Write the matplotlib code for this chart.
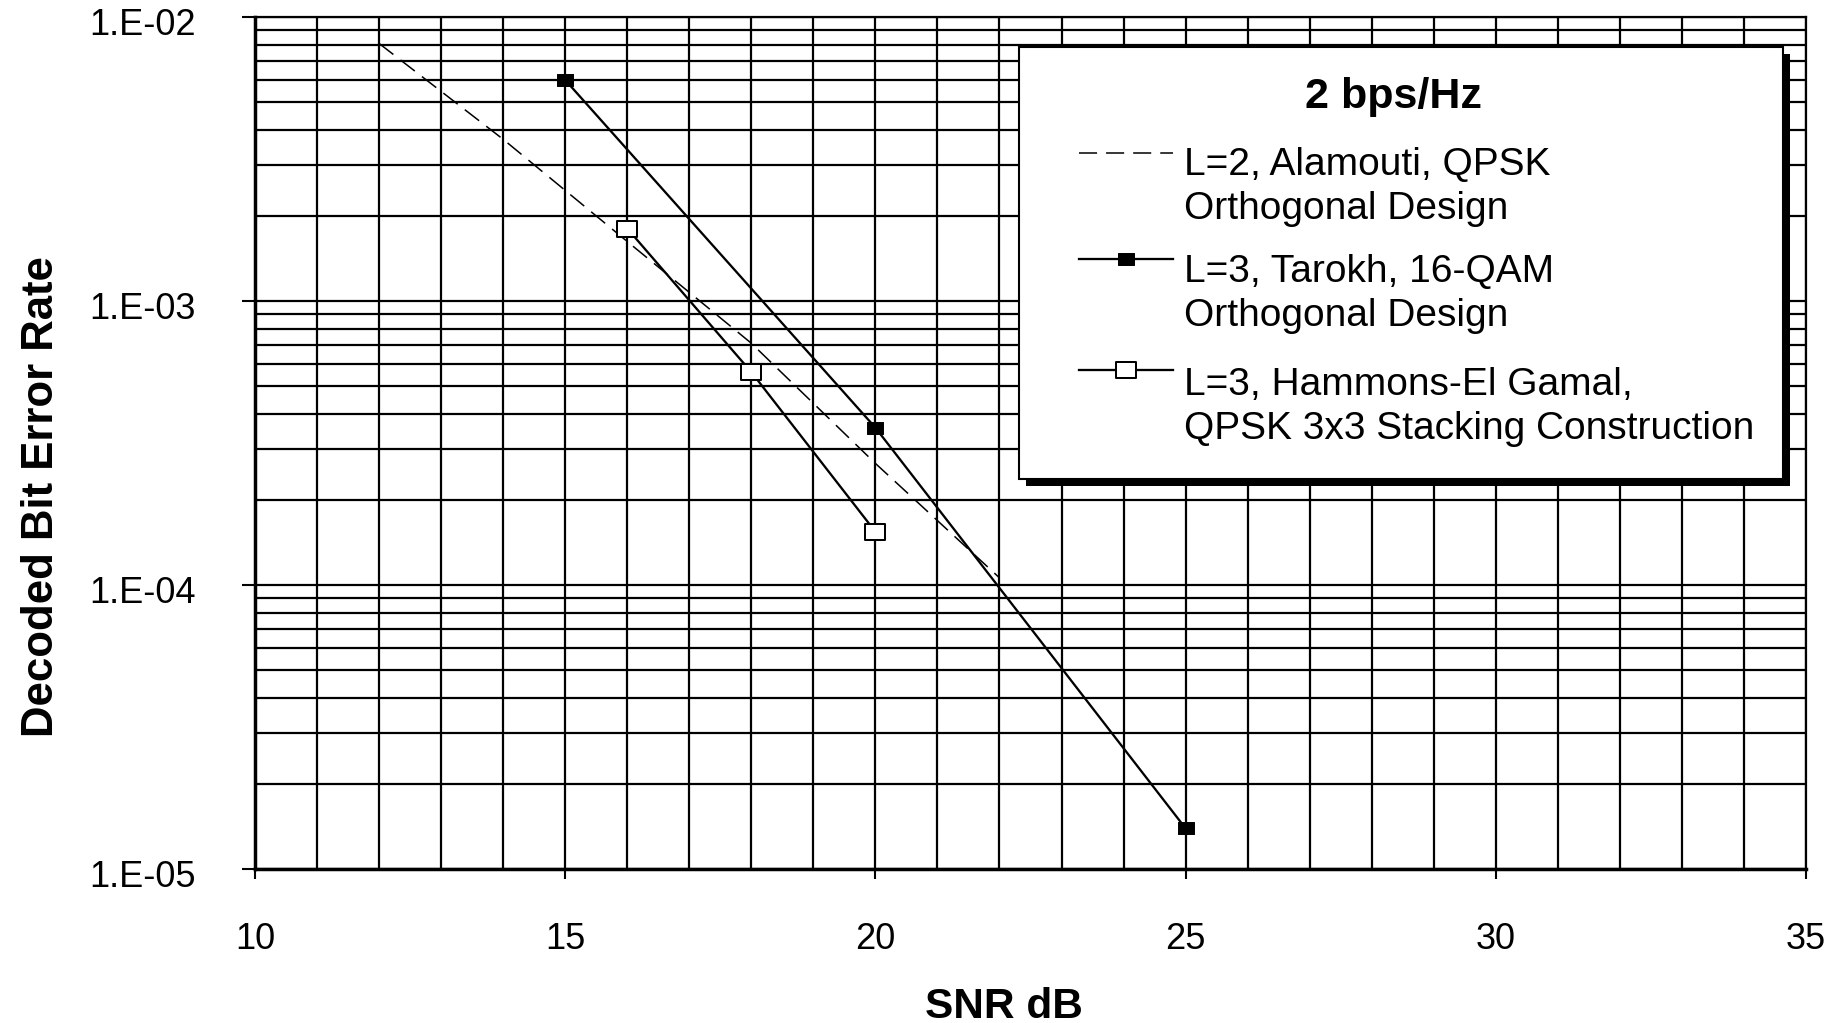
import numpy as np
import matplotlib
matplotlib.use("Agg")
import matplotlib.pyplot as plt
from matplotlib.path import Path
from matplotlib.lines import Line2D
from matplotlib.patches import Rectangle
from matplotlib.ticker import FixedLocator, FixedFormatter, NullFormatter
from matplotlib.transforms import ScaledTranslation

plt.rcParams['font.family'] = ['Liberation Sans', 'DejaVu Sans']
plt.rcParams['lines.scale_dashes'] = False

# ---------------- data ----------------
snr_alamouti = [12, 14, 16, 18, 20, 22]
ber_alamouti = [8.07e-3, 3.71e-3, 1.62e-3, 7.1e-4, 2.68e-4, 1.06e-4]

snr_tarokh = [15, 20, 25]
ber_tarokh = [6.0e-3, 3.58e-4, 1.39e-5]

snr_hammons = [16, 18, 20]
ber_hammons = [1.80e-3, 5.62e-4, 1.54e-4]

legend_title = "2 bps/Hz"
series_labels = [
    ["L=2, Alamouti, QPSK", "Orthogonal Design"],
    ["L=3, Tarokh, 16-QAM", "Orthogonal Design"],
    ["L=3, Hammons-El Gamal,", "QPSK 3x3 Stacking Construction"],
]
x_label = "SNR dB"
y_label = "Decoded Bit Error Rate"
xtick_values = [10, 15, 20, 25, 30, 35]
xtick_labels = ["10", "15", "20", "25", "30", "35"]
ytick_values = [1e-5, 1e-4, 1e-3, 1e-2]
ytick_labels = ["1.E-05", "1.E-04", "1.E-03", "1.E-02"]

# ---------------- figure ----------------
W, H = 1841, 1023
fig = plt.figure(figsize=(W / 100, H / 100), dpi=100)
AX_L, AX_R, AX_T, AX_B = 255, 1806, 17, 869
ax = fig.add_axes([AX_L / W, 1 - AX_B / H, (AX_R - AX_L) / W, (AX_B - AX_T) / H])


def fpx(x, y):
    return x / W, 1 - y / H


# wide rectangular marker
rect_marker = Path([(-1.25, -1), (1.25, -1), (1.25, 1), (-1.25, 1), (-1.25, -1)],
                   [Path.MOVETO, Path.LINETO, Path.LINETO, Path.LINETO, Path.CLOSEPOLY])

dash_style = (0, (13, 6.5))
style_alamouti = dict(color='black', lw=1.1, linestyle=dash_style)
style_tarokh = dict(color='black', lw=1.65, marker=rect_marker, ms=11.3,
                    mfc='black', mec='black', mew=0.7)
style_hammons = dict(color='black', lw=1.65, marker=rect_marker, ms=13.7,
                     mfc='white', mec='black', mew=1.45)

ax.plot(snr_alamouti, ber_alamouti, zorder=3, **style_alamouti)
ax.plot(snr_tarokh, ber_tarokh, zorder=4, **style_tarokh)
ax.plot(snr_hammons, ber_hammons, zorder=4, **style_hammons)

ax.set_yscale('log')
ax.set_xlim(10, 35)
ax.set_ylim(1e-5, 1e-2)

ax.xaxis.set_major_locator(FixedLocator(xtick_values))
ax.xaxis.set_major_formatter(FixedFormatter(xtick_labels))
ax.xaxis.set_minor_locator(FixedLocator(list(range(10, 36))))
ax.xaxis.set_minor_formatter(NullFormatter())

ax.yaxis.set_major_locator(FixedLocator(ytick_values))
ax.yaxis.set_major_formatter(FixedFormatter(ytick_labels))
minor_y = [m * d for d in [1e-5, 1e-4, 1e-3] for m in range(2, 10)]
ax.yaxis.set_minor_locator(FixedLocator(minor_y))
ax.yaxis.set_minor_formatter(NullFormatter())

ax.grid(True, which='both', color='black', lw=1.6)
ax.set_axisbelow(True)

ax.tick_params(axis='x', which='major', direction='out', length=7.2, width=1.5,
               pad=31, labelsize=26, colors='black')
ax.tick_params(axis='y', which='major', direction='out', length=9.4, width=1.5,
               pad=33, labelsize=26, colors='black')
ax.tick_params(which='minor', length=0)

for side in ['left', 'bottom']:
    ax.spines[side].set_linewidth(2.5)
for side in ['top', 'right']:
    ax.spines[side].set_linewidth(1.6)

for lab in ax.get_yticklabels():
    lab.set_transform(lab.get_transform() + ScaledTranslation(0, -4 / 100, fig.dpi_scale_trans))

ax.set_xlabel(x_label, fontsize=30.5, fontweight='bold')
ax.xaxis.set_label_coords(0.4829, -0.1385)
ax.set_ylabel(y_label, fontsize=31.5, fontweight='bold')
ax.yaxis.set_label_coords(-0.1244, 0.4366)

# ---------------- legend (drawn manually) ----------------
LX0, LY0, LX1, LY1 = 1019, 47, 1783, 479
SH = 7
shadow = Rectangle(fpx(LX0 + SH, LY1 + SH), (LX1 - LX0) / W, (LY1 - LY0) / H,
                   transform=fig.transFigure, facecolor='black', edgecolor='black',
                   lw=0, zorder=5)
box = Rectangle(fpx(LX0, LY1), (LX1 - LX0) / W, (LY1 - LY0) / H,
                transform=fig.transFigure, facecolor='white', edgecolor='black',
                lw=1.5, zorder=6)
fig.add_artist(shadow)
fig.add_artist(box)

fig.text(*fpx(1393, 108), legend_title, fontsize=31, fontweight='bold',
         ha='center', va='baseline', zorder=7)

handle_ys = [153, 259, 370]
text_baselines = [175, 282, 395]
LINE_STEP = 44
styles = [style_alamouti, style_tarokh, style_hammons]
for hy, tb, st, lines in zip(handle_ys, text_baselines, styles, series_labels):
    st2 = dict(st)
    mk = st2.pop('marker', None)
    ms = st2.pop('ms', None)
    mfc = st2.pop('mfc', None)
    mec = st2.pop('mec', None)
    mew = st2.pop('mew', None)
    x0, y0 = fpx(1079, hy)
    x1, _ = fpx(1173, hy)
    fig.add_artist(Line2D([x0, x1], [y0, y0], transform=fig.transFigure, zorder=7, **st2))
    if mk is not None:
        xm, _ = fpx(1126, hy)
        fig.add_artist(Line2D([xm], [y0], transform=fig.transFigure, zorder=8,
                              marker=mk, ms=ms, mfc=mfc, mec=mec, mew=mew, lw=0))
    for i, line in enumerate(lines):
        fig.text(*fpx(1184, tb + i * LINE_STEP), line, fontsize=28, ha='left',
                 va='baseline', zorder=7)

fig.savefig("out.png", dpi=100)
